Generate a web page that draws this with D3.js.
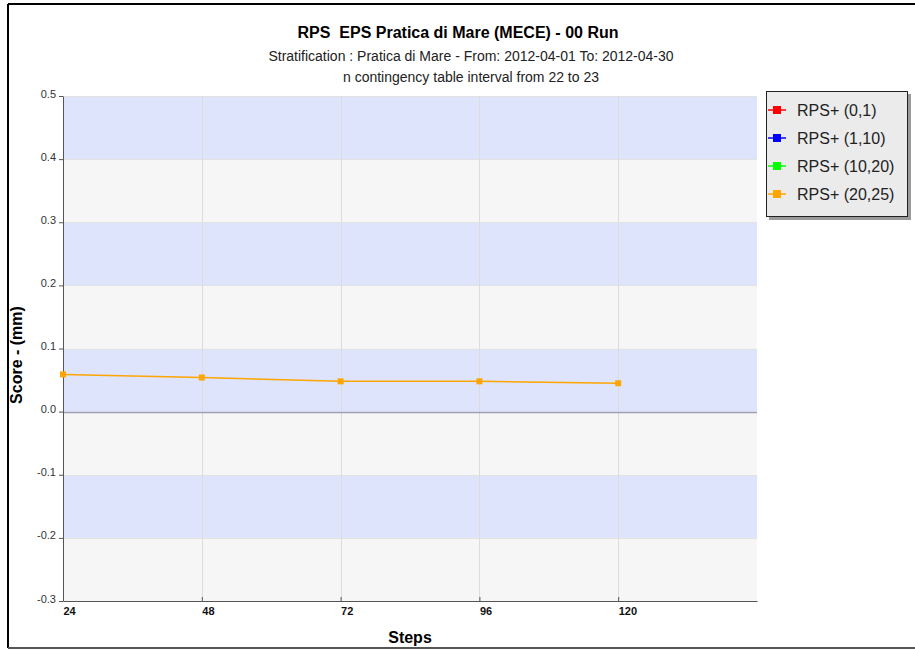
<!DOCTYPE html>
<html>
<head>
<meta charset="utf-8">
<script src="https://cdn.jsdelivr.net/npm/d3@7"></script>
<style>
  html, body { margin: 0; padding: 0; background: #fff; }
  svg { display: block; font-family: "Liberation Sans", Arial, sans-serif; }
  .pre { white-space: pre; }
</style>
</head>
<body>
<svg id="chart" width="915" height="651"></svg>
<script>
// Forecast lead steps (hours) and RPS score per rainfall class
const steps = [24, 48, 72, 96, 120];
const seriesNames = ["RPS+ (0,1)", "RPS+ (1,10)", "RPS+ (10,20)", "RPS+ (20,25)"];
const seriesColors = ["#ff0000", "#0000ff", "#00ff00", "#ffa500"];
const rps0_1 = [];
const rps1_10 = [];
const rps10_20 = [];
const rps20_25 = [0.059, 0.054, 0.048, 0.048, 0.045];
const xTicks = [24, 48, 72, 96, 120];
const yTicks = [-0.3, -0.2, -0.1, 0.0, 0.1, 0.2, 0.3, 0.4, 0.5];

const titleText = "RPS  EPS Pratica di Mare (MECE) - 00 Run";
const subtitle1 = "Stratification : Pratica di Mare - From: 2012-04-01 To: 2012-04-30";
const subtitle2 = "n contingency table interval from 22 to 23";

const seriesValues = [rps0_1, rps1_10, rps10_20, rps20_25];

const svg = d3.select("#chart");
const plot = { left: 63, top: 96, right: 757, bottom: 601 };

const x = d3.scaleLinear().domain([24, 144]).range([plot.left, plot.right]);
const y = d3.scaleLinear().domain([-0.3, 0.5]).range([plot.bottom, plot.top]);

// outer frame: left/top black, bottom dark grey
svg.append("line").attr("x1", 8).attr("y1", 4).attr("x2", 915).attr("y2", 4)
  .attr("stroke", "#000").attr("stroke-width", 2);
svg.append("line").attr("x1", 8).attr("y1", 4).attr("x2", 8).attr("y2", 648)
  .attr("stroke", "#000").attr("stroke-width", 2);
svg.append("line").attr("x1", 8).attr("y1", 648).attr("x2", 915).attr("y2", 648)
  .attr("stroke", "#555").attr("stroke-width", 2);

// titles
svg.append("text").attr("class", "pre").attr("x", 458).attr("y", 38).attr("text-anchor", "middle")
  .attr("font-size", 16).attr("font-weight", "bold").attr("fill", "#000").text(titleText);
svg.append("text").attr("x", 471).attr("y", 61).attr("text-anchor", "middle")
  .attr("font-size", 14).attr("fill", "#222").text(subtitle1);
svg.append("text").attr("x", 471).attr("y", 82).attr("text-anchor", "middle")
  .attr("font-size", 14).attr("fill", "#222").text(subtitle2);

// alternating horizontal bands
const bands = d3.range(yTicks.length - 1).map(i => ({ lo: yTicks[i], hi: yTicks[i + 1], i }));
svg.append("g").selectAll("rect").data(bands).join("rect")
  .attr("x", plot.left).attr("width", plot.right - plot.left)
  .attr("y", d => y(d.hi)).attr("height", d => y(d.lo) - y(d.hi))
  .attr("fill", d => (d.i % 2 === 1) ? "#dde4fb" : "#f6f6f6");

// grid lines
svg.append("g").selectAll("line").data(yTicks).join("line")
  .attr("x1", plot.left).attr("x2", plot.right)
  .attr("y1", d => Math.round(y(d)) + 0.5).attr("y2", d => Math.round(y(d)) + 0.5)
  .attr("stroke", "#e2e2e2").attr("stroke-width", 1);
svg.append("g").selectAll("line").data(xTicks).join("line")
  .attr("y1", plot.top).attr("y2", plot.bottom)
  .attr("x1", d => Math.round(x(d)) + 0.5).attr("x2", d => Math.round(x(d)) + 0.5)
  .attr("stroke", "#dcdcdc").attr("stroke-width", 1);

// zero line
svg.append("line").attr("x1", plot.left).attr("x2", plot.right)
  .attr("y1", Math.round(y(0)) + 0.5).attr("y2", Math.round(y(0)) + 0.5)
  .attr("stroke", "#9a9fb6").attr("stroke-width", 1.5);

// axes
const fmt1 = d => d.toFixed(1).replace(/^-0\.0$/, "0.0");
const yAxis = d3.axisLeft(y).tickValues(yTicks).tickSize(4).tickSizeOuter(0)
  .tickFormat(fmt1);
const gy = svg.append("g").attr("transform", `translate(${plot.left},0)`).call(yAxis);
gy.select(".domain").attr("stroke", "#555");
gy.selectAll(".tick line").attr("stroke", "#555");
gy.selectAll(".tick text").attr("font-size", 11).attr("fill", "#333")
  .attr("font-family", "Liberation Sans, Arial, sans-serif").attr("x", -7).attr("dy", "0.1em");

const xAxis = d3.axisBottom(x).tickValues(xTicks).tickSize(-4).tickSizeOuter(0)
  .tickFormat(d => String(d));
const gx = svg.append("g").attr("transform", `translate(0,${plot.bottom})`).call(xAxis);
gx.select(".domain").attr("stroke", "#555");
gx.selectAll(".tick line").attr("stroke", "#555");
gx.selectAll(".tick text").attr("font-size", 11).attr("font-weight", "bold").attr("fill", "#111")
  .attr("font-family", "Liberation Sans, Arial, sans-serif")
  .attr("text-anchor", "start").attr("y", 6).attr("dy", "0.71em");

// axis titles
svg.append("text").attr("x", 410).attr("y", 643).attr("text-anchor", "middle")
  .attr("font-size", 16).attr("font-weight", "bold").text("Steps");
svg.append("text").attr("transform", "translate(22,355) rotate(-90)").attr("text-anchor", "middle")
  .attr("font-size", 16).attr("font-weight", "bold").text("Score - (mm)");

// series lines and markers
const line = d3.line().x(d => x(d[0])).y(d => y(d[1]));
seriesValues.forEach((vals, si) => {
  const pts = vals.map((v, i) => [steps[i], v]);
  if (!pts.length) return;
  svg.append("path").datum(pts).attr("d", line)
    .attr("fill", "none").attr("stroke", seriesColors[si]).attr("stroke-width", 1.5);
  svg.append("g").selectAll("rect").data(pts).join("rect")
    .attr("x", d => x(d[0]) - 3).attr("y", d => y(d[1]) - 3)
    .attr("width", 6).attr("height", 6).attr("fill", seriesColors[si]);
});

// legend
const lg = svg.append("g").attr("transform", "translate(766,91)");
lg.append("rect").attr("x", 3).attr("y", 3).attr("width", 142).attr("height", 126).attr("fill", "#9a9a9a");
lg.append("rect").attr("x", 0.5).attr("y", 0.5).attr("width", 141).attr("height", 125)
  .attr("fill", "#ebebeb").attr("stroke", "#222").attr("stroke-width", 1);
const items = lg.selectAll("g.item").data(seriesNames).join("g")
  .attr("class", "item").attr("transform", (d, i) => `translate(0,${19 + i * 28})`);
items.append("line").attr("x1", 2).attr("x2", 20).attr("y1", 0).attr("y2", 0)
  .attr("stroke", (d, i) => seriesColors[i]).attr("stroke-width", 1.5);
items.append("rect").attr("x", 7).attr("y", -4).attr("width", 8).attr("height", 8)
  .attr("fill", (d, i) => seriesColors[i]);
items.append("text").attr("x", 31).attr("y", 0).attr("dy", "0.35em")
  .attr("font-size", 16).attr("fill", "#222").text(d => d);
</script>
</body>
</html>
